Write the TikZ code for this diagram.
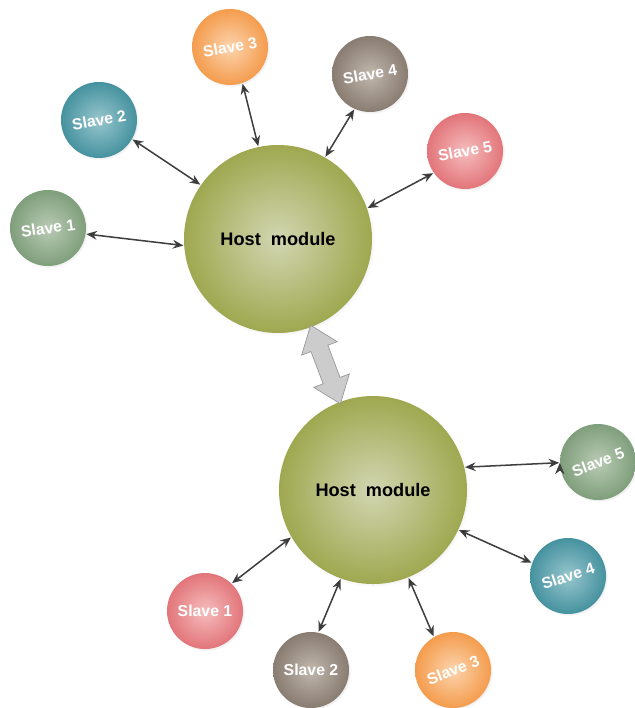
\documentclass[tikz,border=0pt]{standalone}
\usepackage{fontspec}
\setsansfont{Liberation Sans}
\usetikzlibrary{arrows.meta,positioning,shapes.arrows,shadows,calc}

\definecolor{hostolive}{HTML}{9FA850}
\definecolor{hostlight}{HTML}{D2D6B2}
\definecolor{greenbase}{HTML}{7F9E7B}
\definecolor{greenlight}{HTML}{B9CBB5}
\definecolor{tealbase}{HTML}{45929F}
\definecolor{teallight}{HTML}{98C6CD}
\definecolor{orangebase}{HTML}{F49C4D}
\definecolor{orangelight}{HTML}{FCD4AE}
\definecolor{taupebase}{HTML}{897C71}
\definecolor{taupelight}{HTML}{C0B7AE}
\definecolor{pinkbase}{HTML}{E2757A}
\definecolor{pinklight}{HTML}{F6BDBD}
\definecolor{linkgray}{HTML}{3F3F3F}

\begin{document}
\begin{tikzpicture}[x=0.03cm,y=-0.03cm,on grid,
  >={Stealth[length=9pt,width=7.5pt]},
  link/.style={<->,line width=1.3pt,draw=linkgray,shorten >=0.5pt,shorten <=0.5pt},
  host node/.style={circle,shading=radial,inner color=hostlight,outer color=hostolive,
    minimum size=5.64cm,font=\sffamily\bfseries\fontsize{15.5}{18}\selectfont,
    circular drop shadow={shadow scale=1.02,shadow xshift=1pt,shadow yshift=-1pt,opacity=0.3}},
  slave node/.style={circle,shading=radial,minimum size=2.28cm,inner sep=0pt,text=white,
    font=\sffamily\bfseries\fontsize{13.5}{16}\selectfont,
    circular drop shadow={shadow scale=1.03,shadow xshift=1pt,shadow yshift=-1pt,opacity=0.25}},
  green slave/.style={slave node,inner color=greenlight,outer color=greenbase},
  teal slave/.style={slave node,inner color=teallight,outer color=tealbase},
  orange slave/.style={slave node,inner color=orangelight,outer color=orangebase},
  taupe slave/.style={slave node,inner color=taupelight,outer color=taupebase},
  pink slave/.style={slave node,inner color=pinklight,outer color=pinkbase}]

  \useasboundingbox (0,0) rectangle (634,708);

  % upper host and its slaves
  \node[host node]    (HA) at (278,239)                  {Host\ \ module};
  \node[green slave]  (A1) [above left=0.33cm and 6.9cm of HA]  {\rotatebox{8}{Slave 1}};
  \node[teal slave]   (A2) [above left=3.57cm and 5.37cm of HA] {\rotatebox{10}{Slave 2}};
  \node[orange slave] (A3) [above left=5.76cm and 1.44cm of HA] {\rotatebox{10}{Slave 3}};
  \node[taupe slave]  (A4) [above right=4.95cm and 2.76cm of HA] {\rotatebox{10}{Slave 4}};
  \node[pink slave]   (A5) [above right=2.64cm and 5.61cm of HA] {\rotatebox{11}{Slave 5}};

  % lower host and its slaves
  \node[host node]    (HB) [below right=7.53cm and 2.85cm of HA] {Host\ \ module};
  \node[pink slave]   (B1) [below left=3.63cm and 5.04cm of HB]  {Slave 1};
  \node[taupe slave]  (B2) [below left=5.4cm and 1.86cm of HB]   {Slave 2};
  \node[orange slave] (B3) [below right=5.4cm and 2.4cm of HB]   {\rotatebox{21}{Slave 3}};
  \node[teal slave]   (B4) [below right=2.58cm and 5.85cm of HB] {\rotatebox{18}{Slave 4}};
  \node[green slave]  (B5) [above right=0.84cm and 6.75cm of HB] {\rotatebox{21}{Slave 5}};

  % link between the two hosts
  \node[double arrow,draw=gray!80,fill=gray!40,line width=0.6pt,inner xsep=0pt,inner ysep=0.26cm,
        minimum height=2.52cm,double arrow head extend=0.3cm,
        double arrow tip angle=75,rotate=-69.3] (L) at ($(HA)!0.5!(HB)$) {};

  \path[link]
    (A1.-9.5)  edge (HA.184)
    (A2.-30)   edge (HA.145)
    (A3.-71)   edge (HA.102)
    (A4.-114)  edge (HA.60)
    (A5.-145)  edge (HA.19)
    (B1.46)    edge (HB.-150)
    (B2.79)    edge (HB.-110)
    (B3.120)   edge (HB.-68)
    (B4.160)   edge (HB.-25)
    (B5.181)   edge (HB.14);

\end{tikzpicture}
\end{document}
